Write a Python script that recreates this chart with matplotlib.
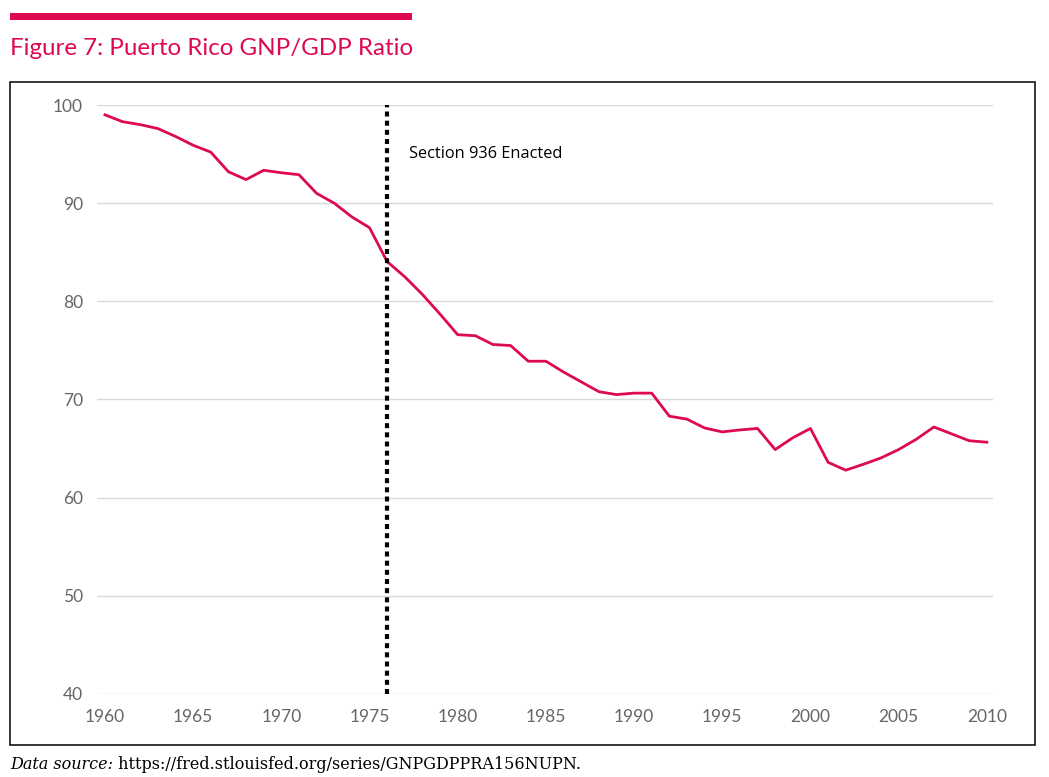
"""
Puerto Rico GNP/GDP ratio, 1960-2010 (Figure 7).
Cikti: out.png
"""

import numpy as np
import matplotlib
matplotlib.use("Agg")
import matplotlib.pyplot as plt
from matplotlib.patches import Rectangle

# Veri (FRED GNPGDPPRA156NUPN)
years = list(range(1960, 2011))
ratio = [
    99.0, 98.3, 98.0, 97.6, 96.8, 95.9, 95.2, 93.2, 92.4, 93.35,
    93.1, 92.9, 91.0, 90.0, 88.6, 87.5, 84.05, 82.5, 80.7, 78.7,
    76.6, 76.5, 75.6, 75.5, 73.9, 73.9, 72.8, 71.8, 70.8, 70.5,
    70.65, 70.65, 68.3, 68.0, 67.1, 66.7, 66.9, 67.05, 64.9, 66.1,
    67.05, 63.6, 62.8, 63.4, 64.05, 64.9, 65.95, 67.2, 66.5, 65.8,
    65.65,
]
event_year = 1976
event_label = "Section 936 Enacted"
y_ticks = [40, 50, 60, 70, 80, 90, 100]
x_ticks = list(range(1960, 2011, 5))

TITLE = "Figure 7: Puerto Rico GNP/GDP Ratio"
SOURCE_LBL = "Data source:"
SOURCE_URL = " https://fred.stlouisfed.org/series/GNPGDPPRA156NUPN."

RED = "#DE0A4F"
GRAY_TXT = "#666666"
GRID = "#D9D9D9"

W, H = 1049, 777


def main() -> None:
    fig = plt.figure(figsize=(W / 100, H / 100), dpi=100)

    # Ust kirmizi cizgi ve baslik
    fig.patches.append(Rectangle((10 / W, 1 - 20 / H), 402 / W, 7 / H,
                                 transform=fig.transFigure,
                                 facecolor=RED, edgecolor="none"))
    fig.text(10 / W, 1 - 55 / H, TITLE, color=RED, fontsize=17.4,
             family="Lato", ha="left", va="baseline")

    # Cerceve
    fig.patches.append(Rectangle((10 / W, 1 - 745 / H), 1025 / W, 663 / H,
                                 transform=fig.transFigure,
                                 facecolor="none", edgecolor="black",
                                 linewidth=1.1))

    ax = fig.add_axes([97 / W, 1 - 694 / H, 896 / W, 589 / H])
    ax.plot(years, ratio, color=RED, linewidth=2.0, solid_joinstyle="round",
            zorder=3)
    ax.axvline(event_year, color="black", linewidth=3.0,
               linestyle=(0, (1.2, 1)), zorder=4)
    ax.text(event_year + 1.25, 95, event_label, fontsize=11.8,
            family="Open Sans", color="black", va="center")

    ax.set_xlim(1959.55, 2010.35)
    ax.set_ylim(40, 100)
    ax.set_xticks(x_ticks)
    ax.set_yticks(y_ticks)
    ax.grid(axis="y", color=GRID, linewidth=1.0)
    ax.set_axisbelow(True)
    for s in ax.spines.values():
        s.set_visible(False)
    ax.tick_params(axis="both", length=0, labelsize=12.5,
                   labelcolor=GRAY_TXT)
    ax.tick_params(axis="y", pad=10)
    ax.tick_params(axis="x", pad=11)
    for lab in ax.get_xticklabels() + ax.get_yticklabels():
        lab.set_family("Lato")

    # Kaynak notu
    src = fig.text(10 / W, 1 - 769 / H, SOURCE_LBL, fontsize=11.5,
                   family="DejaVu Serif", style="italic", color="black",
                   ha="left", va="baseline")
    ax.annotate(SOURCE_URL, xy=(1, 0), xycoords=src, fontsize=11.5,
                family="DejaVu Serif", color="black",
                ha="left", va="bottom", annotation_clip=False)

    fig.savefig("out.png", dpi=100)
    plt.close(fig)


if __name__ == "__main__":
    main()
